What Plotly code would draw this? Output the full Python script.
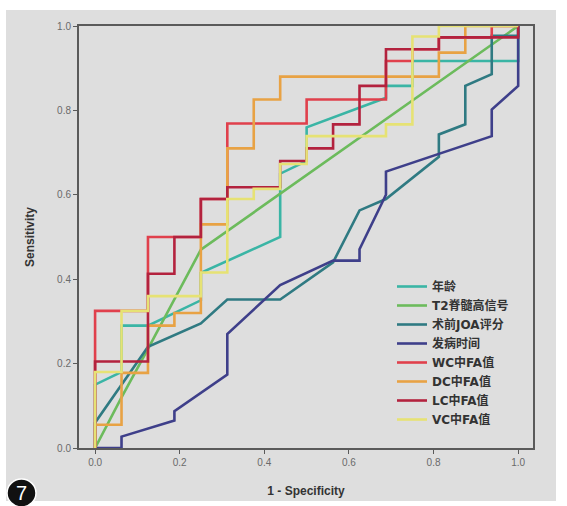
import plotly.graph_objects as go

# ---- data ----
names = ["年龄", "T2脊髓高信号", "术前JOA评分", "发病时间", "WC中FA值", "DC中FA值", "LC中FA值", "VC中FA值"]
colors = ["#3ab5a5", "#6cbb5c", "#2f7a82", "#3e3f8a", "#e0404c", "#e8a244", "#b3223e", "#e6e274"]

age_x = [0, 0, 0.0625, 0.0625, 0.125, 0.25, 0.25, 0.4375, 0.4375, 0.5, 0.5, 0.6875, 0.6875, 0.75, 0.75, 0.8125, 1.0, 1.0]
age_y = [0, 0.15, 0.18, 0.29, 0.29, 0.35, 0.415, 0.5, 0.65, 0.68, 0.76, 0.83, 0.858, 0.858, 0.917, 0.917, 0.917, 1.0]

t2_x = [0, 0.0625, 0.125, 0.25, 1.0]
t2_y = [0, 0.12, 0.235, 0.47, 1.0]

joa_x = [0, 0, 0.125, 0.25, 0.3125, 0.4375, 0.5625, 0.625, 0.6875, 0.8125, 0.8125, 0.875, 0.875, 0.9375, 0.9375, 1.0, 1.0]
joa_y = [0, 0.06, 0.24, 0.295, 0.352, 0.352, 0.44, 0.563, 0.59, 0.69, 0.743, 0.767, 0.858, 0.886, 0.977, 0.977, 1.0]

onset_x = [0, 0.0625, 0.0625, 0.1875, 0.1875, 0.3125, 0.3125, 0.4375, 0.5625, 0.625, 0.625, 0.6875, 0.6875, 0.9375, 0.9375, 1.0, 1.0]
onset_y = [0, 0, 0.027, 0.065, 0.087, 0.174, 0.27, 0.386, 0.444, 0.444, 0.471, 0.6, 0.655, 0.739, 0.802, 0.858, 1.0]

wc_x = [0, 0, 0.125, 0.125, 0.25, 0.25, 0.3125, 0.3125, 0.5, 0.5, 0.6875, 0.6875, 0.75, 0.75, 0.8125, 0.8125, 0.9375, 0.9375, 1.0]
wc_y = [0, 0.325, 0.325, 0.5, 0.5, 0.59, 0.59, 0.769, 0.769, 0.826, 0.826, 0.917, 0.917, 0.945, 0.945, 0.973, 0.973, 1.0, 1.0]

dc_x = [0, 0, 0.0625, 0.0625, 0.125, 0.125, 0.1875, 0.1875, 0.25, 0.25, 0.3125, 0.3125, 0.375, 0.375, 0.4375, 0.4375, 0.8125, 0.8125, 0.875, 0.875, 1.0]
dc_y = [0, 0.055, 0.055, 0.178, 0.178, 0.29, 0.29, 0.32, 0.32, 0.53, 0.53, 0.71, 0.71, 0.826, 0.826, 0.88, 0.88, 0.937, 0.937, 1.0, 1.0]

lc_x = [0, 0, 0.125, 0.125, 0.1875, 0.1875, 0.25, 0.25, 0.3125, 0.3125, 0.4375, 0.4375, 0.5, 0.5, 0.5625, 0.5625, 0.625, 0.625, 0.6875, 0.6875, 0.8125, 0.8125, 1.0, 1.0]
lc_y = [0, 0.205, 0.205, 0.413, 0.413, 0.5, 0.5, 0.59, 0.59, 0.618, 0.618, 0.68, 0.68, 0.71, 0.71, 0.767, 0.767, 0.858, 0.858, 0.945, 0.945, 0.973, 0.973, 1.0]

vc_x = [0, 0, 0.0625, 0.0625, 0.125, 0.125, 0.25, 0.25, 0.3125, 0.3125, 0.375, 0.375, 0.4375, 0.4375, 0.5, 0.5, 0.6875, 0.6875, 0.75, 0.75, 0.8125, 0.8125, 1.0]
vc_y = [0, 0.18, 0.18, 0.325, 0.325, 0.36, 0.36, 0.416, 0.416, 0.59, 0.59, 0.614, 0.614, 0.673, 0.673, 0.739, 0.739, 0.767, 0.767, 0.975, 0.975, 1.0, 1.0]

xs = [age_x, t2_x, joa_x, onset_x, wc_x, dc_x, lc_x, vc_x]
ys = [age_y, t2_y, joa_y, onset_y, wc_y, dc_y, lc_y, vc_y]

tick_vals = [0.0, 0.2, 0.4, 0.6, 0.8, 1.0]
tick_text = ["0.0", "0.2", "0.4", "0.6", "0.8", "1.0"]

# ---- figure ----
W, H = 567, 506
L, R, T, B = 79, 34, 26, 58
pw, ph = W - L - R, H - T - B

def px(x):
    return (x - L) / pw

def py(y):
    return (H - B - y) / ph

fig = go.Figure()
for n, c, x, y in zip(names, colors, xs, ys):
    fig.add_trace(go.Scatter(x=x, y=y, mode="lines", name=n,
                             line=dict(color=c, width=2.6)))

# gray background panel
fig.add_shape(type="rect", xref="paper", yref="paper", layer="below",
              x0=px(6), x1=px(556), y0=py(501), y1=py(10),
              fillcolor="#dedede", line=dict(width=0))
# numbered badge
fig.add_shape(type="circle", xref="paper", yref="paper",
              x0=px(7), x1=px(36), y0=py(507), y1=py(479),
              fillcolor="#111111", line=dict(color="white", width=1.5))
fig.add_annotation(text="7", xref="paper", yref="paper", x=px(21.5), y=py(493),
                   xanchor="center", yanchor="middle",
                   showarrow=False, font=dict(family="Liberation Sans, Arial", size=20, color="white"))

axis_common = dict(showline=True, linecolor="#5a5a5a", linewidth=2, mirror=True,
                   showgrid=False, zeroline=False, ticks="outside", ticklen=4,
                   tickcolor="#5a5a5a", tickwidth=1, automargin=False,
                   tickfont=dict(family="Liberation Sans, Arial", size=10, color="#6a6a6a"),
                   tickvals=tick_vals, ticktext=tick_text)

fig.update_xaxes(range=[-0.038, 1.035], **axis_common,
                 title=dict(text="1 - Specificity", standoff=20,
                            font=dict(family="Liberation Sans, Arial", size=12, color="#333333", weight="bold")))
fig.update_yaxes(range=[0, 1], **axis_common,
                 title=dict(text="Sensitivity", standoff=20,
                            font=dict(family="Liberation Sans, Arial", size=12, color="#333333", weight="bold")))

fig.update_layout(
    width=W, height=H,
    margin=dict(l=L, r=R, t=T, b=B),
    paper_bgcolor="white",
    plot_bgcolor="#d6d6d6",
    showlegend=True,
    legend=dict(x=px(392), y=py(272), xanchor="left", yanchor="top",
                bgcolor="rgba(0,0,0,0)", borderwidth=0,
                itemwidth=30, tracegroupgap=0,
                font=dict(family="DejaVu Sans, Noto Sans CJK SC", size=12, color="#333333", weight="bold")),
)

fig.write_html("out.html", config={"displayModeBar": False},
               post_script="document.body.style.margin='0';document.body.style.padding='0';")
